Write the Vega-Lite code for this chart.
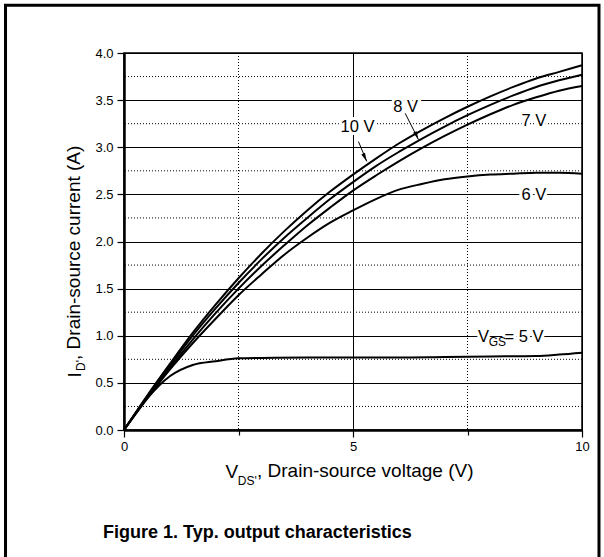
{
  "$schema": "https://vega.github.io/schema/vega-lite/v6.json",
  "width": 458,
  "height": 377,
  "autosize": {"type": "none"},
  "padding": {"left": 124, "top": 53, "right": 22, "bottom": 127},
  "background": "white",
  "config": {
    "font": "Liberation Sans",
    "view": {"stroke": "black", "strokeWidth": 1.5},
    "axis": {
      "domainColor": "black",
      "domainWidth": 2.5,
      "tickColor": "black",
      "tickWidth": 1.2,
      "labelColor": "black",
      "labelFont": "Liberation Sans",
      "labelFontSize": 13,
      "titleFont": "Liberation Sans",
      "titleFontSize": 19,
      "titleFontWeight": "normal",
      "titleColor": "black"
    }
  },
  "datasets": {
    "curves": [
      {"vgs": "10 V", "vds": 0, "id": 0}, {"vgs": "10 V", "vds": 0.5, "id": 0.36}, {"vgs": "10 V", "vds": 1, "id": 0.70}, {"vgs": "10 V", "vds": 1.5, "id": 1.03}, {"vgs": "10 V", "vds": 2, "id": 1.33}, {"vgs": "10 V", "vds": 2.5, "id": 1.61}, {"vgs": "10 V", "vds": 3, "id": 1.87}, {"vgs": "10 V", "vds": 3.5, "id": 2.11}, {"vgs": "10 V", "vds": 4, "id": 2.33}, {"vgs": "10 V", "vds": 4.5, "id": 2.53}, {"vgs": "10 V", "vds": 5, "id": 2.71}, {"vgs": "10 V", "vds": 5.5, "id": 2.88}, {"vgs": "10 V", "vds": 6, "id": 3.04}, {"vgs": "10 V", "vds": 6.5, "id": 3.18}, {"vgs": "10 V", "vds": 7, "id": 3.31}, {"vgs": "10 V", "vds": 7.5, "id": 3.43}, {"vgs": "10 V", "vds": 8, "id": 3.54}, {"vgs": "10 V", "vds": 8.5, "id": 3.64}, {"vgs": "10 V", "vds": 9, "id": 3.73}, {"vgs": "10 V", "vds": 9.5, "id": 3.80}, {"vgs": "10 V", "vds": 10, "id": 3.87},
      {"vgs": "8 V", "vds": 0, "id": 0}, {"vgs": "8 V", "vds": 0.5, "id": 0.35}, {"vgs": "8 V", "vds": 1, "id": 0.68}, {"vgs": "8 V", "vds": 1.5, "id": 1.00}, {"vgs": "8 V", "vds": 2, "id": 1.29}, {"vgs": "8 V", "vds": 2.5, "id": 1.56}, {"vgs": "8 V", "vds": 3, "id": 1.81}, {"vgs": "8 V", "vds": 3.5, "id": 2.04}, {"vgs": "8 V", "vds": 4, "id": 2.25}, {"vgs": "8 V", "vds": 4.5, "id": 2.45}, {"vgs": "8 V", "vds": 5, "id": 2.63}, {"vgs": "8 V", "vds": 5.5, "id": 2.80}, {"vgs": "8 V", "vds": 6, "id": 2.95}, {"vgs": "8 V", "vds": 6.5, "id": 3.09}, {"vgs": "8 V", "vds": 7, "id": 3.22}, {"vgs": "8 V", "vds": 7.5, "id": 3.34}, {"vgs": "8 V", "vds": 8, "id": 3.45}, {"vgs": "8 V", "vds": 8.5, "id": 3.55}, {"vgs": "8 V", "vds": 9, "id": 3.64}, {"vgs": "8 V", "vds": 9.5, "id": 3.71}, {"vgs": "8 V", "vds": 10, "id": 3.77},
      {"vgs": "7 V", "vds": 0, "id": 0}, {"vgs": "7 V", "vds": 0.5, "id": 0.34}, {"vgs": "7 V", "vds": 1, "id": 0.66}, {"vgs": "7 V", "vds": 1.5, "id": 0.96}, {"vgs": "7 V", "vds": 2, "id": 1.24}, {"vgs": "7 V", "vds": 2.5, "id": 1.50}, {"vgs": "7 V", "vds": 3, "id": 1.74}, {"vgs": "7 V", "vds": 3.5, "id": 1.96}, {"vgs": "7 V", "vds": 4, "id": 2.17}, {"vgs": "7 V", "vds": 4.5, "id": 2.36}, {"vgs": "7 V", "vds": 5, "id": 2.54}, {"vgs": "7 V", "vds": 5.5, "id": 2.70}, {"vgs": "7 V", "vds": 6, "id": 2.85}, {"vgs": "7 V", "vds": 6.5, "id": 2.99}, {"vgs": "7 V", "vds": 7, "id": 3.12}, {"vgs": "7 V", "vds": 7.5, "id": 3.24}, {"vgs": "7 V", "vds": 8, "id": 3.35}, {"vgs": "7 V", "vds": 8.5, "id": 3.45}, {"vgs": "7 V", "vds": 9, "id": 3.53}, {"vgs": "7 V", "vds": 9.5, "id": 3.60}, {"vgs": "7 V", "vds": 10, "id": 3.65},
      {"vgs": "6 V", "vds": 0, "id": 0}, {"vgs": "6 V", "vds": 0.5, "id": 0.33}, {"vgs": "6 V", "vds": 1, "id": 0.64}, {"vgs": "6 V", "vds": 1.5, "id": 0.92}, {"vgs": "6 V", "vds": 2, "id": 1.18}, {"vgs": "6 V", "vds": 2.5, "id": 1.43}, {"vgs": "6 V", "vds": 3, "id": 1.65}, {"vgs": "6 V", "vds": 3.5, "id": 1.86}, {"vgs": "6 V", "vds": 4, "id": 2.04}, {"vgs": "6 V", "vds": 4.5, "id": 2.20}, {"vgs": "6 V", "vds": 5, "id": 2.33}, {"vgs": "6 V", "vds": 5.5, "id": 2.45}, {"vgs": "6 V", "vds": 6, "id": 2.55}, {"vgs": "6 V", "vds": 6.5, "id": 2.61}, {"vgs": "6 V", "vds": 7, "id": 2.66}, {"vgs": "6 V", "vds": 7.5, "id": 2.69}, {"vgs": "6 V", "vds": 8, "id": 2.71}, {"vgs": "6 V", "vds": 8.5, "id": 2.72}, {"vgs": "6 V", "vds": 9, "id": 2.73}, {"vgs": "6 V", "vds": 9.5, "id": 2.73}, {"vgs": "6 V", "vds": 10, "id": 2.72},
      {"vgs": "5 V", "vds": 0, "id": 0}, {"vgs": "5 V", "vds": 0.5, "id": 0.33}, {"vgs": "5 V", "vds": 1, "id": 0.57}, {"vgs": "5 V", "vds": 1.5, "id": 0.69}, {"vgs": "5 V", "vds": 2, "id": 0.73}, {"vgs": "5 V", "vds": 2.5, "id": 0.76}, {"vgs": "5 V", "vds": 3, "id": 0.765}, {"vgs": "5 V", "vds": 4, "id": 0.77}, {"vgs": "5 V", "vds": 5, "id": 0.77}, {"vgs": "5 V", "vds": 6, "id": 0.77}, {"vgs": "5 V", "vds": 7, "id": 0.775}, {"vgs": "5 V", "vds": 8, "id": 0.78}, {"vgs": "5 V", "vds": 9, "id": 0.785}, {"vgs": "5 V", "vds": 9.5, "id": 0.80}, {"vgs": "5 V", "vds": 10, "id": 0.82}
    ],
    "minorX": [{"vds": 2.5}, {"vds": 7.5}],
    "minorY": [{"id": 0.25}, {"id": 0.75}, {"id": 1.25}, {"id": 1.75}, {"id": 2.25}, {"id": 2.75}, {"id": 3.25}, {"id": 3.75}],
    "arrows": [
      {"vds": 6.14, "id": 3.36, "vds2": 6.43, "id2": 3.08},
      {"vds": 5.12, "id": 3.06, "vds2": 5.30, "id2": 2.85}
    ],
    "centerLabels": [
      {"vds": 5.10, "id": 3.22, "label": "10 V"},
      {"vds": 6.15, "id": 3.43, "label": "8 V"},
      {"vds": 8.95, "id": 3.28, "label": "7 V"},
      {"vds": 8.95, "id": 2.495, "label": "6 V"}
    ],
    "leftLabels": [
      {"vds": 7.73, "id": 0.99, "label": "V"},
      {"vds": 8.31, "id": 0.99, "label": "= 5 V"}
    ],
    "subLabels": [
      {"vds": 7.964, "id": 0.93, "label": "GS"},
      {"vds": 2.483, "id": -0.541, "label": "DS'"}
    ],
    "subLabelsRot": [
      {"vds": -0.862, "id": 0.626, "label": "D'"}
    ],
    "titleRestX": [
      {"vds": 2.904, "id": -0.499, "label": ", Drain-source voltage (V)"}
    ],
    "titleRestY": [
      {"vds": -0.961, "id": 0.743, "label": ", Drain-source current (A)"}
    ],
    "caption": [
      {"vds": -0.459, "id": -1.146, "label": "Figure 1. Typ. output characteristics"}
    ]
  },
  "layer": [
    {
      "data": {"name": "minorX"},
      "mark": {"type": "rule", "color": "black", "strokeWidth": 1, "strokeDash": [1, 2]},
      "encoding": {"x": {"field": "vds", "type": "quantitative"}}
    },
    {
      "data": {"name": "minorY"},
      "mark": {"type": "rule", "color": "black", "strokeWidth": 1, "strokeDash": [1, 2]},
      "encoding": {"y": {"field": "id", "type": "quantitative"}}
    },
    {
      "data": {"name": "curves"},
      "mark": {"type": "line", "color": "black", "strokeWidth": 2, "interpolate": "monotone"},
      "encoding": {
        "x": {
          "field": "vds", "type": "quantitative",
          "scale": {"domain": [0, 10], "nice": false, "zero": false},
          "axis": {
            "title": "V",
            "titleX": 101, "titleY": 47, "titleAlign": "left", "titleBaseline": "alphabetic", "titleAnchor": "start",
            "values": [0, 2.5, 5, 7.5, 10],
            "format": "d",
            "labelExpr": "datum.value % 5 === 0 ? datum.label : ''",
            "labelPadding": 3,
            "labelFlush": false,
            "tickSize": {"condition": {"test": "datum.value % 5 !== 0", "value": 5}, "value": 7},
            "grid": true,
            "gridColor": "black",
            "gridWidth": 1,
            "gridOpacity": {"condition": {"test": "datum.value % 5 !== 0", "value": 0}, "value": 1}
          }
        },
        "y": {
          "field": "id", "type": "quantitative",
          "scale": {"domain": [0, 4], "nice": false, "zero": false},
          "axis": {
            "title": "I",
            "titleAngle": 270, "titleX": -44, "titleY": 324, "titleAlign": "left", "titleBaseline": "alphabetic", "titleAnchor": "start",
            "values": [0, 0.25, 0.5, 0.75, 1, 1.25, 1.5, 1.75, 2, 2.25, 2.5, 2.75, 3, 3.25, 3.5, 3.75, 4],
            "format": ".1f",
            "labelExpr": "datum.value % 0.5 === 0 ? datum.label : ''",
            "labelPadding": 4,
            "labelFlush": false,
            "tickSize": {"condition": {"test": "datum.value % 0.5 !== 0", "value": 4}, "value": 7},
            "grid": true,
            "gridColor": "black",
            "gridWidth": 1,
            "gridOpacity": {"condition": {"test": "datum.value % 0.5 !== 0", "value": 0}, "value": 1}
          }
        },
        "detail": {"field": "vgs", "type": "nominal"}
      }
    },
    {
      "data": {"values": [{}]},
      "mark": {"type": "rect", "fill": "transparent", "stroke": "black", "strokeWidth": 3, "clip": false},
      "encoding": {
        "x": {"datum": -2.587, "type": "quantitative"},
        "x2": {"datum": 10.371},
        "y": {"datum": 4.506, "type": "quantitative"},
        "y2": {"datum": -1.6}
      }
    },
    {
      "data": {"name": "arrows"},
      "mark": {"type": "rule", "color": "black", "strokeWidth": 1},
      "encoding": {
        "x": {"field": "vds", "type": "quantitative"},
        "y": {"field": "id", "type": "quantitative"},
        "x2": {"field": "vds2"},
        "y2": {"field": "id2"}
      }
    },
    {
      "data": {"name": "arrows"},
      "mark": {"type": "point", "shape": "M0,0 L-0.4,-1.7 L0.4,-1.7 Z", "filled": true, "color": "black", "opacity": 1, "size": 100, "angle": 335},
      "encoding": {
        "x": {"field": "vds2", "type": "quantitative"},
        "y": {"field": "id2", "type": "quantitative"}
      }
    },
    {
      "data": {"name": "centerLabels"},
      "encoding": {
        "x": {"field": "vds", "type": "quantitative"},
        "y": {"field": "id", "type": "quantitative"},
        "text": {"field": "label"}
      },
      "layer": [
        {"mark": {"type": "text", "fontSize": 16.5, "align": "center", "baseline": "middle", "fill": "white", "stroke": "white", "strokeWidth": 6}},
        {"mark": {"type": "text", "fontSize": 16.5, "align": "center", "baseline": "middle", "color": "black"}}
      ]
    },
    {
      "data": {"name": "leftLabels"},
      "encoding": {
        "x": {"field": "vds", "type": "quantitative"},
        "y": {"field": "id", "type": "quantitative"},
        "text": {"field": "label"}
      },
      "layer": [
        {"mark": {"type": "text", "fontSize": 16.5, "align": "left", "baseline": "middle", "fill": "white", "stroke": "white", "strokeWidth": 6}},
        {"mark": {"type": "text", "fontSize": 16.5, "align": "left", "baseline": "middle", "color": "black"}}
      ]
    },
    {
      "data": {"name": "subLabels"},
      "mark": {"type": "text", "fontSize": 12, "align": "left", "baseline": "middle", "color": "black", "clip": false},
      "encoding": {
        "x": {"field": "vds", "type": "quantitative"},
        "y": {"field": "id", "type": "quantitative"},
        "text": {"field": "label"}
      }
    },
    {
      "data": {"name": "subLabelsRot"},
      "mark": {"type": "text", "fontSize": 12, "align": "left", "baseline": "alphabetic", "angle": 270, "color": "black", "clip": false},
      "encoding": {
        "x": {"field": "vds", "type": "quantitative"},
        "y": {"field": "id", "type": "quantitative"},
        "text": {"field": "label"}
      }
    },
    {
      "data": {"name": "titleRestX"},
      "mark": {"type": "text", "fontSize": 19, "align": "left", "baseline": "alphabetic", "color": "black", "clip": false},
      "encoding": {
        "x": {"field": "vds", "type": "quantitative"},
        "y": {"field": "id", "type": "quantitative"},
        "text": {"field": "label"}
      }
    },
    {
      "data": {"name": "titleRestY"},
      "mark": {"type": "text", "fontSize": 19, "align": "left", "baseline": "alphabetic", "angle": 270, "color": "black", "clip": false},
      "encoding": {
        "x": {"field": "vds", "type": "quantitative"},
        "y": {"field": "id", "type": "quantitative"},
        "text": {"field": "label"}
      }
    },
    {
      "data": {"name": "caption"},
      "mark": {"type": "text", "fontSize": 18, "fontWeight": "bold", "align": "left", "baseline": "alphabetic", "color": "black", "clip": false},
      "encoding": {
        "x": {"field": "vds", "type": "quantitative"},
        "y": {"field": "id", "type": "quantitative"},
        "text": {"field": "label"}
      }
    }
  ]
}
